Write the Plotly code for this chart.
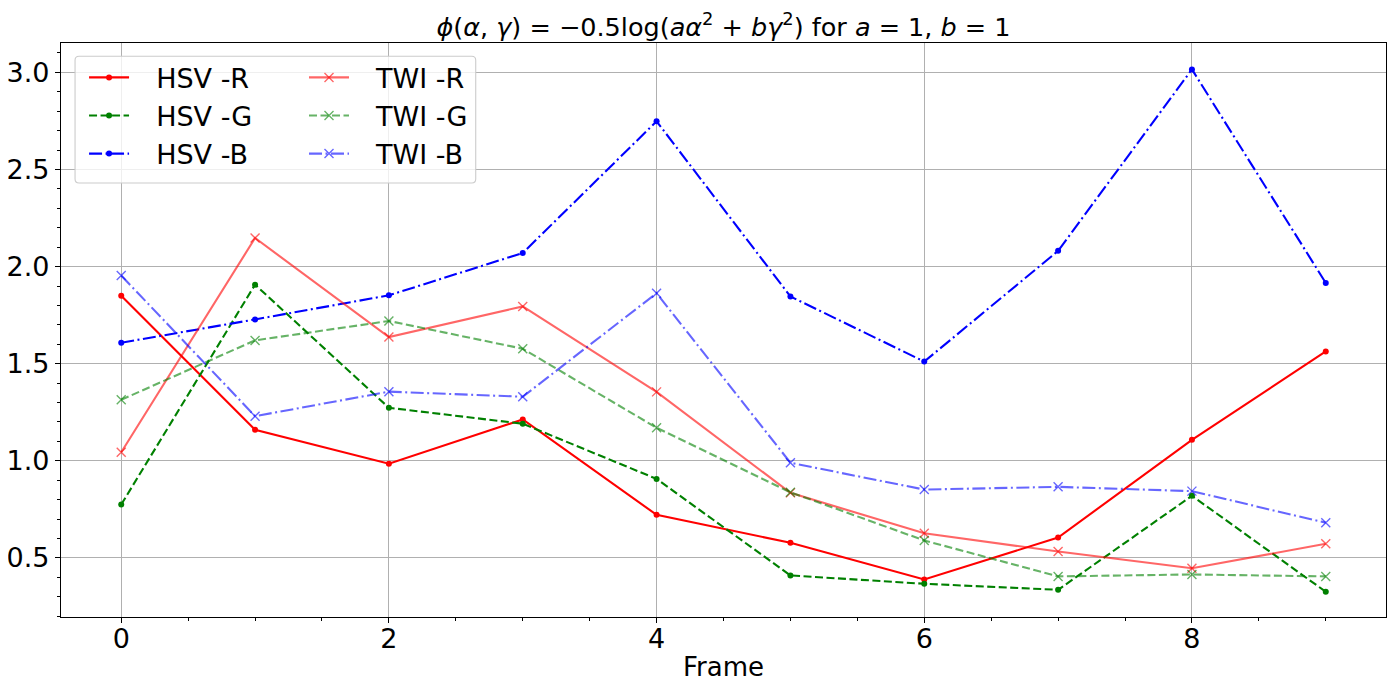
import plotly.graph_objects as go

# Frame index
frames = list(range(10))

# HSV series
hsv_r = [1.850, 1.160, 0.985, 1.213, 0.722, 0.578, 0.389, 0.605, 1.108, 1.563]
hsv_g = [0.775, 1.907, 1.273, 1.191, 0.907, 0.410, 0.367, 0.336, 0.820, 0.326]
hsv_b = [1.608, 1.728, 1.852, 2.070, 2.748, 1.846, 1.511, 2.081, 3.015, 1.916]

# TWI series
twi_r = [1.044, 2.147, 1.637, 1.795, 1.355, 0.835, 0.627, 0.533, 0.447, 0.573]
twi_g = [1.314, 1.620, 1.720, 1.577, 1.170, 0.838, 0.590, 0.405, 0.415, 0.405]
twi_b = [1.954, 1.230, 1.356, 1.330, 1.863, 0.990, 0.852, 0.866, 0.844, 0.681]

FONT = "DejaVu Sans"
DASH = "8px,3.5px"
DASHDOT = "13px,3.5px,2px,3.5px"
PAD = "\u2002\u00a0"  # gap between legend sample and label

fig = go.Figure()

# HSV lines with small dot markers (legend 1)
for name, vals, col, dash in [
    ("HSV -R", hsv_r, "#ff0000", "solid"),
    ("HSV -G", hsv_g, "#008000", DASH),
    ("HSV -B", hsv_b, "#0000ff", DASHDOT),
]:
    fig.add_trace(go.Scatter(
        x=frames, y=vals, name=PAD + name, mode="lines+markers",
        line=dict(color=col, width=2.1, dash=dash),
        marker=dict(symbol="circle", size=6, color=col),
        legend="legend",
    ))

# TWI lines, semi transparent with x markers (legend 2)
for name, vals, col, dash in [
    ("TWI -R", twi_r, "rgba(255,0,0,0.6)", "solid"),
    ("TWI -G", twi_g, "rgba(0,128,0,0.6)", DASH),
    ("TWI -B", twi_b, "rgba(0,0,255,0.6)", DASHDOT),
]:
    fig.add_trace(go.Scatter(
        x=frames, y=vals, name=PAD + name, mode="lines+markers",
        line=dict(color=col, width=2.1, dash=dash),
        marker=dict(symbol="x-thin", size=9, line=dict(color=col, width=1.4)),
        legend="legend2",
    ))

axis_common = dict(
    showline=True, linecolor="black", linewidth=1.1, mirror=True,
    showgrid=True, gridcolor="#b0b0b0", gridwidth=1.1,
    ticks="outside", ticklen=5, tickwidth=1.1, tickcolor="black",
    tickfont=dict(family=FONT, size=27, color="black"),
    zeroline=False, automargin=False,
)

fig.update_xaxes(
    range=[-0.45, 9.45], dtick=2, tick0=0,
    minor=dict(dtick=0.5, ticks="outside", ticklen=3, tickcolor="black", showgrid=False),
    title=dict(text="Frame", font=dict(family=FONT, size=26, color="black"), standoff=4),
    ticklabelstandoff=-7,
    **axis_common,
)
fig.update_yaxes(
    range=[0.196, 3.151], dtick=0.5, tick0=0, tickformat=".1f",
    minor=dict(dtick=0.1, ticks="outside", ticklen=3, tickcolor="black", showgrid=False),
    ticklabelstandoff=0,
    **axis_common,
)

legend_common = dict(
    bgcolor="rgba(0,0,0,0)", borderwidth=0,
    font=dict(family=FONT, size=27, color="black"),
    xref="paper", yref="paper", xanchor="left", yanchor="top",
    itemwidth=40, tracegroupgap=0,
)

# legend frame (rounded rectangle in paper coords)
x0, x1, y0, y1 = 0.0106, 0.313, 0.756, 0.977
rx, ry = 0.003, 0.007
frame_path = (
    f"M {x0+rx},{y0} L {x1-rx},{y0} Q {x1},{y0} {x1},{y0+ry} "
    f"L {x1},{y1-ry} Q {x1},{y1} {x1-rx},{y1} "
    f"L {x0+rx},{y1} Q {x0},{y1} {x0},{y1-ry} "
    f"L {x0},{y0+ry} Q {x0},{y0} {x0+rx},{y0} Z"
)

# page body adds an 8px offset, so the figure is 8px smaller on each side
fig.update_layout(
    width=1387, height=685,
    margin=dict(l=53, r=9, t=35, b=76),
    paper_bgcolor="white", plot_bgcolor="white",
    font=dict(family=FONT, color="black"),
    title=dict(
        text="<i>ϕ</i>(<i>α</i>, <i>γ</i>) = −0.5log(<i>aα</i><sup>2</sup> + <i>bγ</i><sup>2</sup>) for <i>a</i> = 1, <i>b</i> = 1",
        font=dict(family=FONT, size=25.5, color="black"),
        x=0.5, xref="paper", xanchor="center",
        y=0.9723, yref="container", yanchor="middle",
    ),
    legend=dict(x=0.0174, y=0.982, **legend_common),
    legend2=dict(x=0.1834, y=0.982, **legend_common),
    shapes=[dict(
        type="path", xref="paper", yref="paper", path=frame_path,
        fillcolor="rgba(255,255,255,0.8)", line=dict(color="#cccccc", width=1.1),
        layer="above",
    )],
)

fig.write_html("out.html")
